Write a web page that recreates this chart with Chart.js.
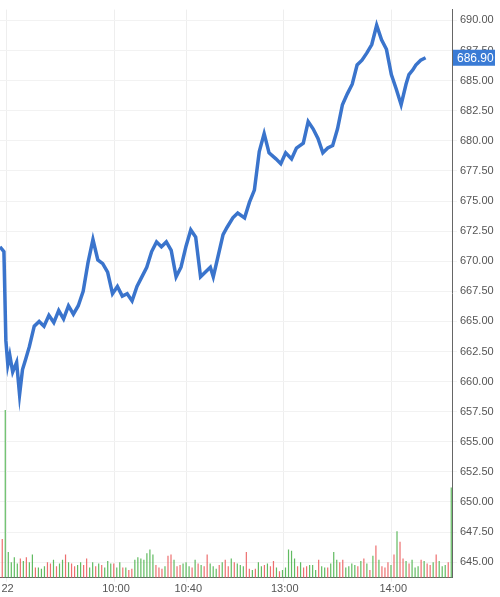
<!DOCTYPE html>
<html><head><meta charset="utf-8">
<script src="https://cdn.jsdelivr.net/npm/chart.js@4"></script>
<style>html,body{margin:0;padding:0;background:#fff}#w{width:500px;height:597px}</style>
</head><body><div id="w"><canvas id="c"></canvas></div>
<script>
const priceX=[0,4,6,8,10,13,17,20,23,26,30,35,40,45,50,55,60,65,70,75,80,85,90,95,100,105,110,115,120,125,130,135,140,145,150,155,160,165,170,175,180,185,190,195,200,205,210,215,218,222,228,232,238,243,250,255,260,265,270,275,282,287,292,298,303,310,315,320,325,330,335,340,345,350,355,360,365,370,375,380,385,390,395,400,405,410,415,418,422,425,430,435,440,447];
const priceY=[671.2,670.8,663.4,661.4,662.2,660.8,661.6,658.9,661.0,661.8,662.9,664.6,665.0,664.6,665.5,664.9,665.9,665.2,666.3,665.6,666.3,667.5,669.9,671.8,670.1,669.8,669.1,667.3,667.9,667.1,667.3,666.7,667.9,668.7,669.5,670.8,671.6,671.2,671.6,670.9,668.7,669.5,671.2,672.6,672.0,668.7,669.1,669.5,668.7,670.1,672.2,672.8,673.6,674.0,673.6,674.9,675.9,679.1,680.6,679.0,678.5,678.1,679.0,678.5,679.4,679.8,681.6,681.0,680.2,679.0,679.4,679.6,681.0,683.0,683.9,684.7,686.3,686.7,687.3,688.0,689.6,688.4,687.6,685.5,684.3,683.0,684.7,685.5,685.9,686.3,686.7,686.9];
const lastPrice=686.90;
const volumes=[30,130,20,12,16,11,15,13,16,12,18,8,8,7,9,12,11,14,9,11,14,18,12,11,9,10,12,10,15,8,12,9,11,10,8,13,11,11,8,12,8,8,6,7,14,16,15,14,19,22,18,10,8,7,9,17,18,14,9,10,11,12,9,8,14,11,10,9,18,11,9,7,10,12,14,9,15,12,11,10,9,20,7,6,7,12,9,10,11,9,13,8,5,6,8,22,21,15,9,12,8,9,10,10,6,14,9,8,8,11,20,14,12,14,8,9,11,10,9,13,15,11,6,17,25,14,9,8,12,10,18,36,28,15,13,11,14,8,9,14,13,11,10,12,18,13,9,10,12,70];
const volUp="rgggggrgrggrgggrrgrggrgrrggrrggrgrgggrggrgrrgggggggrrrgrrgrrgggrgrgrrgggrgrrgrgggrrgrggrgrrgrgggggrgrrgggrggrgggrrggggrgrgrgrgrrrgrgrrgrgggrgrrgrgggrggg";
const tickAt={2:"22",38:"10:00",62:"10:40",94:"13:00",130:"14:00"};
const priceTicks=[645,647.5,650,652.5,655,657.5,660,662.5,665,667.5,670,672.5,675,677.5,680,682.5,685,687.5,690];

const lastLabel={id:'ll',afterDraw(ch){const s=ch.scales.y,c=ch.ctx,y=s.getPixelForValue(lastPrice);c.save();c.fillStyle='#3a7bd5';c.fillRect(s.left+1,y-8,s.width-4,16);c.fillStyle='#fff';c.font='12px Arial, "Liberation Sans"';c.textBaseline='middle';c.fillText(lastPrice.toFixed(2),s.left+5,y+1);c.restore();}};

new Chart(document.getElementById('c'),{
 data:{labels:volumes.map((v,i)=>i),datasets:[
  {type:'line',data:priceX.map((x,i)=>({x:x,y:priceY[i]})),xAxisID:'xp',yAxisID:'y',borderColor:'#3a74cc',borderWidth:3.5,pointRadius:0,tension:0,order:0},
  {type:'bar',data:volumes,xAxisID:'x',yAxisID:'yv',backgroundColor:volumes.map((v,i)=>volUp[i]==='g'?'rgba(80,180,80,0.9)':'rgba(235,95,95,0.9)'),barPercentage:0.8,categoryPercentage:1,order:1}
 ]},
 plugins:[lastLabel],
 options:{responsive:true,maintainAspectRatio:false,animation:false,
  layout:{padding:{left:0,right:2,top:2,bottom:0}},
  plugins:{legend:{display:false},tooltip:{enabled:false}},
  scales:{
   x:{type:'category',offset:true,grid:{color:c=>tickAt[c.index]!==undefined?'#eeeeee':'rgba(0,0,0,0)',tickLength:4},border:{color:'#666'},
      ticks:{autoSkip:false,maxRotation:0,padding:1,color:'#555',font:{size:11,family:'Arial, "Liberation Sans"'},callback:(v,i)=>tickAt[i]||''}},
   xp:{type:'linear',display:false,min:0,max:462},
   y:{position:'right',min:643.7,max:690.9,afterBuildTicks:s=>{s.ticks=priceTicks.map(v=>({value:v}))},
      grid:{color:'#f2f2f2',tickLength:5},border:{color:'#666'},
      ticks:{color:'#555',font:{size:11,family:'Arial, "Liberation Sans"'},callback:v=>v.toFixed(2)},afterFit:s=>{s.width=46}},
   yv:{display:false,min:0,max:440}
  }}
});
</script></body></html>
